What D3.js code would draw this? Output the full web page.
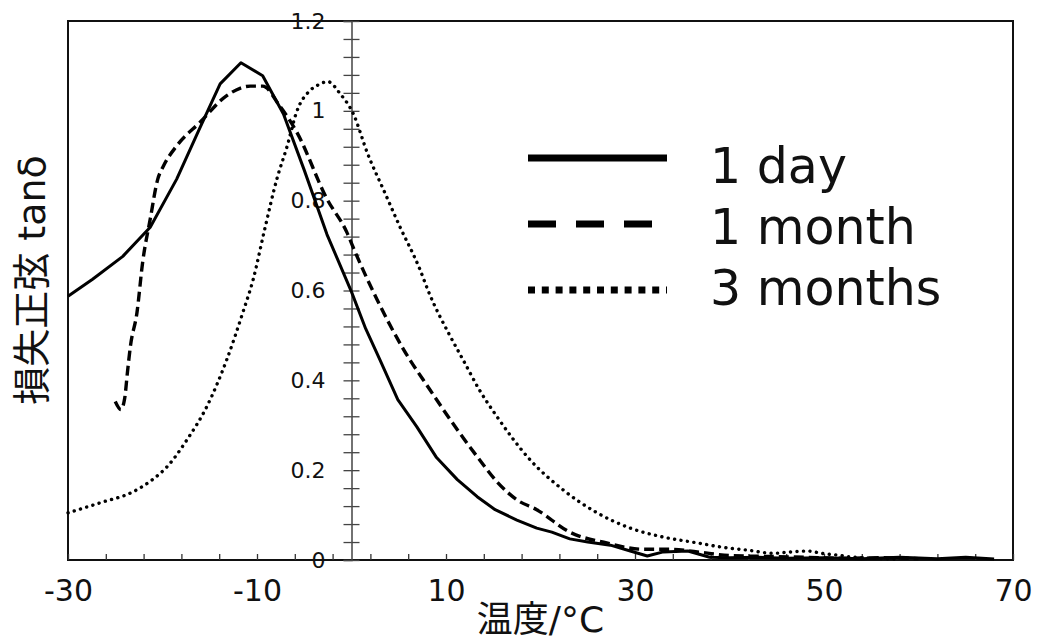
<!DOCTYPE html>
<html>
<head>
<meta charset="utf-8">
<script src="https://cdn.jsdelivr.net/npm/d3@7"></script>
<style>
    body { margin: 0; background: #fff; }
</style>
</head>
<body>
<div id="chart"></div>
<script>
/******************************************************
 *!              Data            *
******************************************************/
// 1 day
const dayTemp = [-30, -27.4, -24.2, -21.3, -18.5, -16.2, -13.9, -11.7, -9.4, -7.2, -5, -2.6, 0, 1.5, 3, 4.9, 6.9, 9, 11.2, 13.3, 15.2, 17.5, 19.6, 21.2, 23.1, 25, 27.4, 29.5, 31.3, 33, 35.6, 37.9, 40, 43, 46, 50, 54, 58, 62, 65, 68];
const dayTan = [0.587, 0.625, 0.676, 0.741, 0.848, 0.955, 1.06, 1.107, 1.078, 0.993, 0.868, 0.725, 0.597, 0.515, 0.446, 0.357, 0.297, 0.228, 0.179, 0.141, 0.112, 0.089, 0.071, 0.062, 0.047, 0.04, 0.033, 0.02, 0.009, 0.018, 0.02, 0.006, 0.005, 0.006, 0.004, 0.005, 0.003, 0.006, 0.003, 0.006, 0.002];

// 1 month
const monthTemp = [-25.0, -24.4, -24.0, -23.7, -23.4, -22.7, -22.1, -21.3, -20.5, -19.9, -18.5, -16.0, -13.2, -10.7, -9.4, -7.6, -5.8, -2.6, -0.5, 0.4, 2.7, 5.5, 8.3, 11.2, 13.3, 15.4, 17.5, 19.6, 23.1, 27.0, 30.8, 33.7, 36.6, 40, 44, 48, 52, 56, 60];
const monthTan = [0.353, 0.335, 0.36, 0.42, 0.475, 0.551, 0.663, 0.759, 0.848, 0.877, 0.922, 0.975, 1.034, 1.055, 1.055, 1.011, 0.953, 0.804, 0.73, 0.685, 0.58, 0.469, 0.379, 0.29, 0.23, 0.174, 0.134, 0.112, 0.062, 0.038, 0.024, 0.024, 0.018, 0.01, 0.008, 0.006, 0.004, 0.005, 0.003];

// 3 months
const threeTemp = [-30, -26.5, -23.1, -21, -19.5, -17.4, -15.3, -13.2, -11.5, -10.4, -9.2, -7.9, -6.8, -5.8, -4.4, -3.5, -2.5, -1.2, 0.2, 1.7, 3.5, 5.1, 7.1, 8.3, 10.4, 11.8, 13.5, 15.4, 18.9, 22.4, 26.0, 29.5, 33.0, 36.6, 39.7, 41.9, 44.6, 46.5, 48.2, 50, 51.4, 52.8, 55, 58];
const threeTan = [0.105, 0.128, 0.152, 0.18, 0.208, 0.268, 0.342, 0.446, 0.551, 0.625, 0.735, 0.848, 0.922, 0.998, 1.045, 1.058, 1.065, 1.038, 0.993, 0.905, 0.819, 0.743, 0.654, 0.59, 0.5, 0.446, 0.38, 0.319, 0.223, 0.156, 0.105, 0.071, 0.051, 0.038, 0.027, 0.022, 0.015, 0.018, 0.02, 0.014, 0.011, 0.007, 0.004, 0.002];

const seriesNames = ["1 day", "1 month", "3 months"];
const xLabelTicks = [-30, -10, 10, 30, 50, 70];
const xMinorTicks = d3.range(-30, 70.01, 4);
const yLabelTicks = [0, 0.2, 0.4, 0.6, 0.8, 1, 1.2];
const yMinorTicks = d3.range(0, 1.2001, 0.04);
const xTitle = "温度/°C";
const yTitle = "損失正弦 tanδ";

/******************************************************
 *!              Layout constants                     *
******************************************************/
const SVG_ID = "chart";
const WIDTH = 1044;
const HEIGHT = 643;
const PLOT = { left: 68, right: 1013, top: 21, bottom: 560 };
const LATIN = "'DejaVu Sans', Verdana, sans-serif";
const CJK = "'DejaVu Sans', 'Noto Sans CJK JP', sans-serif";

// line styles per series (solid / dashed / dotted)
const STYLES = [
    { width: 3, dash: null, cap: "butt", curve: d3.curveLinear },
    { width: 3.4, dash: "10,5", cap: "butt", curve: d3.curveMonotoneX },
    { width: 3.4, dash: "0.1,6.4", cap: "round", curve: d3.curveMonotoneX }
];
const LEGEND_STYLES = [
    { width: 7, dash: null },
    { width: 7, dash: "28,20" },
    { width: 7, dash: "7,6.8" }
];

/******************************************************
 * Main draw
*******************************************************/
function draw() {
    const svg = d3.select('#' + SVG_ID)
        .append("svg")
        .attr("width", WIDTH)
        .attr("height", HEIGHT)
        .style("background", "#fff");

    const x = d3.scaleLinear().domain([-30, 70]).range([PLOT.left, PLOT.right]);
    const y = d3.scaleLinear().domain([0, 1.2]).range([PLOT.bottom, PLOT.top]);

    // Frame
    svg.append("rect")
        .attr("x", PLOT.left)
        .attr("y", PLOT.top)
        .attr("width", PLOT.right - PLOT.left)
        .attr("height", PLOT.bottom - PLOT.top)
        .style("fill", "none")
        .style("stroke", "#111")
        .style("stroke-width", 2);

    // X axis: inward minor ticks
    const xMinor = svg.append("g")
        .attr("transform", `translate(0,${PLOT.bottom})`)
        .call(d3.axisBottom(x).tickValues(xMinorTicks).tickSize(-6).tickFormat(""));
    xMinor.select(".domain").remove();
    xMinor.selectAll("line").style("stroke", "#333").style("stroke-width", 1.3);

    // X axis labels
    const xLab = svg.append("g")
        .attr("transform", `translate(0,${PLOT.bottom})`)
        .call(d3.axisBottom(x).tickValues(xLabelTicks).tickSize(0).tickPadding(20).tickFormat(d3.format("d")));
    xLab.select(".domain").remove();
    xLab.selectAll("text")
        .style("font-family", LATIN)
        .style("font-size", "30px")
        .style("fill", "#111")
        .text(d => String(d));

    // Y axis at x = 0, ticks crossing both sides
    const y0 = x(0);
    const yLeft = svg.append("g")
        .attr("transform", `translate(${y0},0)`)
        .call(d3.axisLeft(y).tickValues(yMinorTicks).tickSize(8).tickFormat(""));
    const yRight = svg.append("g")
        .attr("transform", `translate(${y0},0)`)
        .call(d3.axisRight(y).tickValues(yMinorTicks).tickSize(8).tickFormat(""));
    yRight.select(".domain").remove();
    [yLeft, yRight].forEach(g => {
        g.selectAll("line").style("stroke", "#444").style("stroke-width", 1.3);
        g.select(".domain").style("stroke", "#444").style("stroke-width", 1.5);
    });

    // Y axis labels
    const yLab = svg.append("g")
        .attr("transform", `translate(${y0},0)`)
        .call(d3.axisLeft(y).tickValues(yLabelTicks).tickSize(0).tickPadding(26).tickFormat(d => d3.format("")(+d.toFixed(1))));
    yLab.select(".domain").remove();
    yLab.selectAll("text")
        .style("font-family", LATIN)
        .style("font-size", "22px")
        .style("fill", "#111");

    // Series lines
    const series = [
        dayTemp.map((t, i) => [t, dayTan[i]]),
        monthTemp.map((t, i) => [t, monthTan[i]]),
        threeTemp.map((t, i) => [t, threeTan[i]])
    ];
    series.forEach((pts, i) => {
        const st = STYLES[i];
        const line = d3.line().x(d => x(d[0])).y(d => y(d[1])).curve(st.curve);
        svg.append("path")
            .datum(pts)
            .attr("d", line)
            .style("fill", "none")
            .style("stroke", "#000")
            .style("stroke-width", st.width)
            .style("stroke-linecap", st.cap)
            .style("stroke-linejoin", "round")
            .style("stroke-dasharray", st.dash);
    });

    // Legend
    const legend = svg.append("g");
    seriesNames.forEach((name, i) => {
        const st = LEGEND_STYLES[i];
        const ly = 158 + i * 66;
        legend.append("line")
            .attr("x1", 528).attr("x2", 667)
            .attr("y1", ly).attr("y2", ly)
            .style("stroke", "#000")
            .style("stroke-width", st.width)
            .style("stroke-dasharray", st.dash);
        legend.append("text")
            .attr("x", 710)
            .attr("y", 183 + i * 61)
            .style("font-family", LATIN)
            .style("font-size", "49px")
            .style("fill", "#111")
            .text(name);
    });

    // Axis titles
    svg.append("text")
        .attr("x", (PLOT.left + PLOT.right) / 2)
        .attr("y", 632)
        .attr("text-anchor", "middle")
        .style("font-family", CJK)
        .style("font-size", "36px")
        .style("fill", "#111")
        .text(xTitle);

    svg.append("text")
        .attr("transform", "translate(32,280) rotate(-90)")
        .attr("text-anchor", "middle")
        .attr("dominant-baseline", "central")
        .style("font-family", CJK)
        .style("font-size", "38px")
        .style("fill", "#111")
        .text(yTitle);
}

draw();
</script>
</body>
</html>
